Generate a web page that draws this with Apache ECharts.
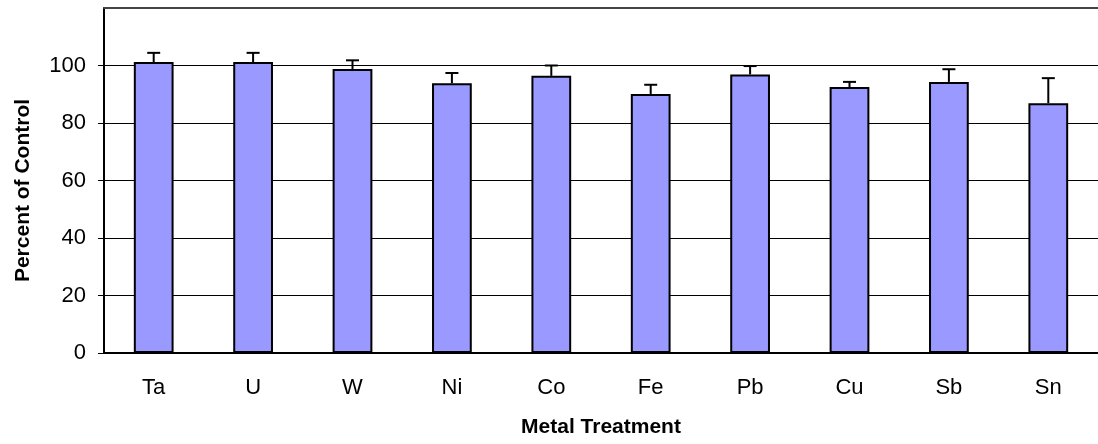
<!DOCTYPE html>
<html>
<head>
<meta charset="utf-8">
<script src="https://cdn.jsdelivr.net/npm/echarts@6/dist/echarts.min.js"></script>
<style>
  html, body { margin: 0; padding: 0; background: #fff; }
  #chart { width: 1098px; height: 444px; }
</style>
</head>
<body>
<div id="chart"></div>
<script>
// Metal treatments and their response as percent of control (mean + upper error)
const metals = ['Ta', 'U', 'W', 'Ni', 'Co', 'Fe', 'Pb', 'Cu', 'Sb', 'Sn'];
const percentOfControl = [101.2, 101.2, 98.8, 93.8, 96.4, 90.1, 96.9, 92.5, 94.3, 86.9];
const errorUpper = [3.2, 3.2, 3.0, 3.6, 3.6, 3.2, 2.9, 1.8, 4.4, 8.7];
const yTicks = [0, 20, 40, 60, 80, 100];

const FONT = '"Liberation Sans", Arial, sans-serif';

const chart = echarts.init(document.getElementById('chart'), null, { renderer: 'canvas' });

const errorData = metals.map((m, i) => [i, percentOfControl[i], percentOfControl[i] + errorUpper[i]]);

chart.setOption({
  animation: false,
  backgroundColor: '#ffffff',
  grid: { left: 104, top: 8, width: 998, height: 345, containLabel: false },
  xAxis: [
    {
      type: 'category',
      data: metals,
      position: 'bottom',
      axisLine: { lineStyle: { color: '#000', width: 2 } },
      axisTick: { show: false },
      axisLabel: { color: '#000', fontFamily: FONT, fontSize: 22, margin: 24 },
      name: 'Metal Treatment',
      nameLocation: 'middle',
      nameGap: 64,
      nameTextStyle: { color: '#000', fontFamily: FONT, fontSize: 21, fontWeight: 'bold' }
    },
    {
      type: 'category',
      data: metals,
      position: 'top',
      axisLine: { show: true, lineStyle: { color: '#444', width: 2 } },
      axisTick: { show: false },
      axisLabel: { show: false }
    }
  ],
  yAxis: {
    type: 'value',
    min: 0,
    max: 120,
    interval: 20,
    axisLine: { show: true, lineStyle: { color: '#000', width: 2 } },
    axisTick: { show: true, length: 6, customValues: yTicks, lineStyle: { color: '#000', width: 1 } },
    axisLabel: {
      color: '#000', fontFamily: FONT, fontSize: 22, margin: 18,
      customValues: yTicks
    },
    splitLine: { show: true, lineStyle: { color: '#000', width: 1 } },
    name: 'Percent of Control',
    nameLocation: 'middle',
    nameGap: 70,
    nameRotate: 90,
    nameTextStyle: { color: '#000', fontFamily: FONT, fontSize: 21, fontWeight: 'bold', padding: [0, 20, 0, 0] }
  },
  series: [
    {
      type: 'bar',
      data: percentOfControl,
      barWidth: '40%',
      itemStyle: { color: '#9999ff', borderColor: '#000', borderWidth: 2 },
      z: 2
    },
    {
      type: 'custom',
      data: errorData,
      z: 3,
      renderItem: function (params, api) {
        const x = api.value(0);
        const base = api.coord([x, api.value(1)]);
        const top = api.coord([x, api.value(2)]);
        const half = 6.5;
        const st = { stroke: '#000', lineWidth: 2 };
        return {
          type: 'group',
          children: [
            { type: 'line', shape: { x1: base[0], y1: base[1], x2: top[0], y2: top[1] }, style: st },
            { type: 'line', shape: { x1: top[0] - half, y1: top[1], x2: top[0] + half, y2: top[1] }, style: st }
          ]
        };
      }
    }
  ]
});
</script>
</body>
</html>
